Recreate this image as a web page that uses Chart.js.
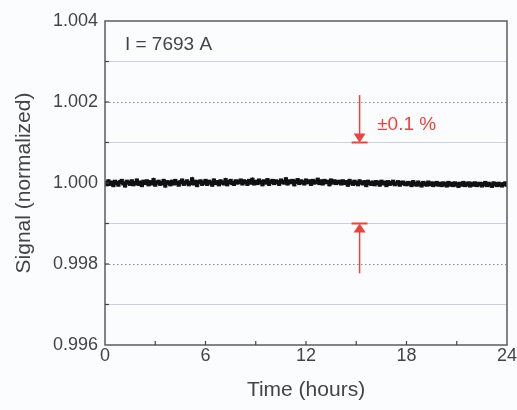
<!DOCTYPE html>
<html>
<head>
<meta charset="utf-8">
<script src="https://cdn.jsdelivr.net/npm/chart.js@4/dist/chart.umd.min.js"></script>
<style>
    html, body { margin: 0; padding: 0; background: #fbfcfe; }
    #wrap { width: 517px; height: 410px; }
</style>
</head>
<body>
<div id="wrap"><canvas id="signalChart" width="517" height="410"></canvas></div>
<script>
// Sampling of the record (hours between readings)
const sampleHours = 0.1;

// Deviation of the normalized signal from 1, in units of 1e-5
const deviation = [
    0, -3, 4, -2, 1, -5, 3, 0, -4, 2, 5, -1, -6, 3, 1, -2, 4, -3, 0, 6,
    -2, 1, -5, 3, 0, 4, -3, 2, -1, 7, -4, 1, 3, -2, 0, 5, -6, 2, 1, -3,
    3, -1, 5, 0, -4, 2, 6, -2, 1, 4, -3, 0, 9, -1, 3, -5, 2, 4, -2, 1,
    5, -2, 3, 1, -4, 6, 0, 2, -3, 4, 1, -1, 7, -3, 2, 5, 0, -2, 4, 1,
    3, 6, -1, 4, 2, -2, 5, 1, 8, -1, 3, 0, 6, 2, -3, 4, 1, 7, -2, 3,
    5, 0, 4, 2, -2, 6, 3, 1, 9, -1, 4, 2, 5, -3, 3, 7, 0, 4, 2, -1,
    6, 2, 4, -2, 5, 1, 3, 8, 0, 4, -1, 5, 2, 3, -3, 6, 1, 4, 0, 2,
    3, -1, 4, 0, 2, -4, 5, 1, -2, 3, 0, -3, 4, 1, -1, 2, -5, 3, 0, -2,
    1, -3, 2, 0, -4, 3, -1, 1, -5, 2, -2, 0, 3, -3, -1, 2, -4, 0, 1, -2,
    -3, 0, -1, -5, 2, -2, -4, 1, -3, -6, 0, -2, -4, 1, -3, -1, -5, -2, 0, -4,
    -2, -5, -1, -3, -6, 0, -4, -2, -5, -1, -3, -7, -2, -4, 0, -5, -3, -1, -6, -2,
    -4, -1, -5, -3, -2, -6, -3, 0, -5, -2, -4, -7, -1, -3, -5, -2, -4, -6, -3, -1, -4,
];

// Axis settings
const xTicks = [0, 6, 12, 18, 24];
const yMin = 0.996;
const yMax = 1.004;
const dottedLevels = [1.002, 0.998];

// Annotations
const currentLabel = 'I = 7693 A';
const bandLabel = '\u00b10.1 %';
const arrowHour = 15.2;
const upperArrow = [1.00217, 1.001];
const lowerArrow = [0.99777, 0.999];

const points = deviation.map((d, i) => ({ x: i * sampleHours, y: 1 + d * 1e-5 }));

const textColor = '#444444';
const red = '#e8453c';

const decorPlugin = {
    id: 'decor',
    beforeDatasetsDraw(chart) {
        const { ctx, chartArea: a, scales: { y } } = chart;
        ctx.save();
        // dotted reference lines
        ctx.strokeStyle = '#8a8d96';
        ctx.lineWidth = 1.2;
        ctx.setLineDash([1.5, 2.5]);
        dottedLevels.forEach((v) => {
            const py = Math.round(y.getPixelForValue(v)) + 0.5;
            ctx.beginPath();
            ctx.moveTo(a.left, py);
            ctx.lineTo(a.right, py);
            ctx.stroke();
        });
        ctx.setLineDash([]);
        ctx.restore();
    },
    afterDraw(chart) {
        const { ctx, chartArea: a, scales: { x, y } } = chart;
        ctx.save();
        // frame
        ctx.strokeStyle = '#5c5c5c';
        ctx.lineWidth = 1.5;
        ctx.strokeRect(a.left, a.top, a.right - a.left, a.bottom - a.top);

        // inward tick marks
        ctx.lineWidth = 1.2;
        ctx.strokeStyle = '#444';
        y.ticks.forEach((t) => {
            if (t.value <= yMin + 1e-9 || t.value >= yMax - 1e-9) return;
            const py = y.getPixelForValue(t.value);
            ctx.beginPath();
            ctx.moveTo(a.left, py);
            ctx.lineTo(a.left + 4, py);
            ctx.stroke();
        });
        x.ticks.forEach((t) => {
            if (t.value <= 0 || t.value >= 24) return;
            const px = x.getPixelForValue(t.value);
            ctx.beginPath();
            ctx.moveTo(px, a.bottom);
            ctx.lineTo(px, a.bottom - 4);
            ctx.stroke();
        });

        // red arrows
        const ax = x.getPixelForValue(arrowHour);
        const drawArrow = (from, to) => {
            const p0 = y.getPixelForValue(from);
            const p1 = y.getPixelForValue(to);
            const dir = p1 > p0 ? 1 : -1;
            ctx.strokeStyle = red;
            ctx.fillStyle = red;
            ctx.lineWidth = 1.5;
            ctx.beginPath();
            ctx.moveTo(ax, p0);
            ctx.lineTo(ax, p1 - dir * 8);
            ctx.stroke();
            ctx.beginPath();
            ctx.moveTo(ax, p1);
            ctx.lineTo(ax - 6, p1 - dir * 9);
            ctx.lineTo(ax + 6, p1 - dir * 9);
            ctx.closePath();
            ctx.fill();
            ctx.lineWidth = 2;
            ctx.beginPath();
            ctx.moveTo(ax - 8, p1);
            ctx.lineTo(ax + 8, p1);
            ctx.stroke();
        };
        drawArrow(upperArrow[0], upperArrow[1]);
        drawArrow(lowerArrow[0], lowerArrow[1]);

        // labels
        ctx.textBaseline = 'middle';
        ctx.textAlign = 'left';
        ctx.fillStyle = red;
        ctx.font = '19px "Liberation Sans", Arial, sans-serif';
        ctx.fillText(bandLabel, x.getPixelForValue(16.25), y.getPixelForValue(1.00144));
        ctx.fillStyle = textColor;
        ctx.fillText(currentLabel, x.getPixelForValue(1.19), y.getPixelForValue(1.00341));
        ctx.restore();
    },
};

const bgPlugin = {
    id: 'bg',
    beforeDraw(chart) {
        const { ctx, width, height } = chart;
        ctx.save();
        ctx.fillStyle = '#fbfcfe';
        ctx.fillRect(0, 0, width, height);
        ctx.restore();
    },
};

const tickFont = { family: '"Liberation Sans", Arial, sans-serif', size: 18 };
const titleFont = { family: '"Liberation Sans", Arial, sans-serif', size: 21 };

new Chart(document.getElementById('signalChart'), {
    type: 'scatter',
    data: {
        datasets: [
            {
                label: 'Signal',
                data: points,
                showLine: true,
                borderColor: '#111111',
                borderWidth: 2.5,
                backgroundColor: '#111111',
                pointStyle: 'rect',
                pointRadius: 3,
                pointBorderWidth: 0,
            },
        ],
    },
    options: {
        responsive: false,
        animation: false,
        layout: { padding: { top: 21, right: 10, left: 0, bottom: 0 } },
        plugins: {
            legend: { display: false },
            tooltip: { enabled: false },
        },
        scales: {
            x: {
                type: 'linear',
                min: 0,
                max: 24,
                afterFit: (s) => { s.height = 65; },
                ticks: {
                    stepSize: 3,
                    autoSkip: false,
                    maxRotation: 0,
                    padding: -8,
                    color: textColor,
                    font: tickFont,
                    callback: (v) => (xTicks.includes(v) ? String(v) : ''),
                },
                grid: { display: false },
                border: { display: false },
                title: {
                    display: true,
                    text: 'Time (hours)',
                    color: textColor,
                    font: titleFont,
                    padding: { top: 0, bottom: 7 },
                },
            },
            y: {
                min: yMin,
                max: yMax,
                afterFit: (s) => { s.width = 105; },
                ticks: {
                    stepSize: 0.001,
                    autoSkip: false,
                    padding: 7,
                    color: textColor,
                    font: tickFont,
                    callback: (v) => (Math.round(v * 1000) % 2 === 0 ? v.toFixed(3) : ''),
                },
                grid: {
                    drawTicks: false,
                    lineWidth: 1,
                    color: (c) => {
                        const k = Math.round(c.tick.value * 1000);
                        return k % 2 !== 0 ? 'rgba(160,170,195,0.55)' : 'rgba(0,0,0,0)';
                    },
                },
                border: { display: false },
                title: {
                    display: true,
                    text: 'Signal (normalized)',
                    color: textColor,
                    font: titleFont,
                    padding: { top: 12, bottom: 0 },
                },
            },
        },
    },
    plugins: [bgPlugin, decorPlugin],
});
</script>
</body>
</html>
